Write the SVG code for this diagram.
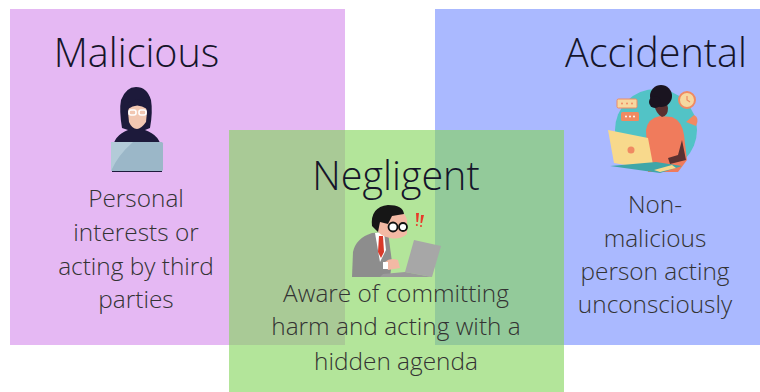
<svg xmlns="http://www.w3.org/2000/svg" width="760" height="392" viewBox="0 0 760 392">
  <style>
    .title { font-family: "Open Sans", "Liberation Sans", sans-serif; font-weight: 300; font-size: 39.5px; fill: #15152a; text-anchor: middle; }
    .body { font-family: "Open Sans", "Liberation Sans", sans-serif; font-weight: 300; font-size: 24.4px; fill: #333; text-anchor: middle; }
  </style>
  <rect width="760" height="392" fill="#ffffff"/>

  <g id="malicious">
    <rect x="10" y="9" width="335" height="336" fill="#e5b8f3"/>
    <text class="title" x="136.5" y="67">Malicious</text>
    <g id="malicious-icon">
      <!-- hooded figure -->
      <path d="M112,172 L112,150 Q114,135 128,130 L122,128 Q119,110 121,100 Q126,87 136,87 Q147,87 151,100 Q153,112 150,128 L145,130 Q160,135 162,150 L162,172 Z" fill="#1d1a3b"/>
      <path d="M128,112 Q128,104 137,103 Q147,104 147,112 L146,122 Q141,129 137,129 Q132,129 129,122 Z" fill="#f2c7b2"/>
      <path d="M128,103 Q137,96 147,103 L147,109 Q137,102 128,109 Z" fill="#1d1a3b"/>
      <rect x="129" y="110" width="7" height="5" rx="2" fill="none" stroke="#ffffff" stroke-width="1.6"/>
      <rect x="139" y="110" width="7" height="5" rx="2" fill="none" stroke="#ffffff" stroke-width="1.6"/>
      <rect x="111" y="142" width="52" height="29" rx="1.5" fill="#9bb7c8"/>
      <path d="M111,142 L133,142 Q118,155 111,171 Z" fill="#b3cbd8"/>
    </g>
    <text class="body" x="136" y="207">Personal</text>
    <text class="body" x="136" y="241">interests or</text>
    <text class="body" x="136" y="275">acting by third</text>
    <text class="body" x="136" y="308">parties</text>
  </g>

  <g id="accidental">
    <rect x="435" y="9" width="325" height="336" fill="#aab9ff"/>
    <text class="title" x="656" y="67">Accidental</text>
    <g id="accidental-icon">
      <circle cx="656" cy="130" r="41" fill="#52c3c6"/>
      <!-- chat bubbles -->
      <rect x="617" y="99" width="20" height="9" rx="1.5" fill="#f6d8a0" stroke="#f08a62" stroke-width="1"/>
      <circle cx="622" cy="103.5" r="1" fill="#f08a62"/><circle cx="627" cy="103.5" r="1" fill="#f08a62"/><circle cx="632" cy="103.5" r="1" fill="#f08a62"/>
      <rect x="621" y="112" width="18" height="9" rx="1.5" fill="#f08a62"/>
      <circle cx="626" cy="116.5" r="1" fill="#fff"/><circle cx="630" cy="116.5" r="1" fill="#fff"/><circle cx="634" cy="116.5" r="1" fill="#fff"/>
      <!-- clock -->
      <circle cx="687" cy="100" r="8" fill="#f6d8a0" stroke="#f08a62" stroke-width="2"/>
      <path d="M687,96 L687,100 L690,102" fill="none" stroke="#f08a62" stroke-width="1.2"/>
      <!-- phone -->
      <path d="M694,115 Q700,118 696,126 L686,122 Z" fill="#f08a62"/>
      <!-- person -->
      <path d="M648,172 L646,130 Q648,118 660,116 L672,117 Q682,121 684,135 L687,160 L678,172 Z" fill="#f07b5c"/>
      <path d="M654,104 Q656,114 662,117 Q668,116 668,108 L666,100 Z" fill="#5a3030"/>
      <circle cx="661" cy="96" r="11" fill="#1a1420"/>
      <circle cx="655" cy="102" r="6" fill="#1a1420"/>
      <path d="M682,140 L686,160 L670,164 L668,158 L678,155 Z" fill="#5a3030"/>
      <!-- laptop -->
      <path d="M608,130 L648,138 L654,170 L614,163 Z" fill="#f8d98c"/>
      <circle cx="631" cy="150" r="3.5" fill="#f08a62"/>
      <path d="M610,166 L660,173 L682,166 L656,162 Z" fill="#3fa6a8"/>
      <path d="M654,170 L672,165 L676,168 L660,172 Z" fill="#f8d98c"/>
    </g>
    <text class="body" x="655" y="213">Non-</text>
    <text class="body" x="655" y="247">malicious</text>
    <text class="body" x="655" y="280">person acting</text>
    <text class="body" x="655" y="313">unconsciously</text>
  </g>

  <g id="negligent">
    <rect x="229" y="130" width="335" height="262" fill="#84d55c" fill-opacity="0.62"/>
    <text class="title" x="396" y="190">Negligent</text>
    <g id="negligent-icon">
      <!-- suit -->
      <path d="M352,277 L353,252 Q356,238 372,233 L388,232 L392,262 L390,277 Z" fill="#8d8d8d"/>
      <path d="M375,233 L384,232 L386,250 L380,262 Z" fill="#ffffff"/>
      <path d="M379,236 L383,236 L384,252 L381,258 L378,252 Z" fill="#d83a2a"/>
      <!-- head -->
      <path d="M374,222 Q374,210 388,208 Q404,208 407,220 L407,234 Q400,240 390,238 Q380,236 377,230 Z" fill="#f3b9a4"/>
      <path d="M372,226 Q370,207 388,205 Q403,205 404,214 L392,216 L388,224 L380,222 L378,232 Z" fill="#161616"/>
      <circle cx="393" cy="227" r="4.5" fill="#ffffff" stroke="#111" stroke-width="1.8"/>
      <circle cx="403" cy="227" r="4" fill="#ffffff" stroke="#111" stroke-width="1.8"/>
      <!-- alert marks -->
      <path d="M416,213 L419,213 L418,222 L416.5,222 Z" fill="#e83a2a"/>
      <path d="M421,215 L424,215 L422,223 L420.5,223 Z" fill="#e83a2a"/>
      <circle cx="416.8" cy="225" r="1" fill="#e83a2a"/>
      <circle cx="421" cy="226" r="1" fill="#e83a2a"/>
      <!-- hands -->
      <path d="M385,262 Q390,257 398,260 L400,268 L388,270 Z" fill="#f3b9a4"/>
      <rect x="383" y="262" width="5" height="7" fill="#ffffff"/>
      <!-- laptop -->
      <path d="M414,240 L441,246 L432,277 L405,272 Z" fill="#a7a7a7"/>
      <path d="M380,277 L432,277 L405,272 L383,274 Z" fill="#9a9a9a"/>
    </g>
    <text class="body" x="396" y="302">Aware of committing</text>
    <text class="body" x="396" y="335">harm and acting with a</text>
    <text class="body" x="396" y="370">hidden agenda</text>
  </g>
</svg>
